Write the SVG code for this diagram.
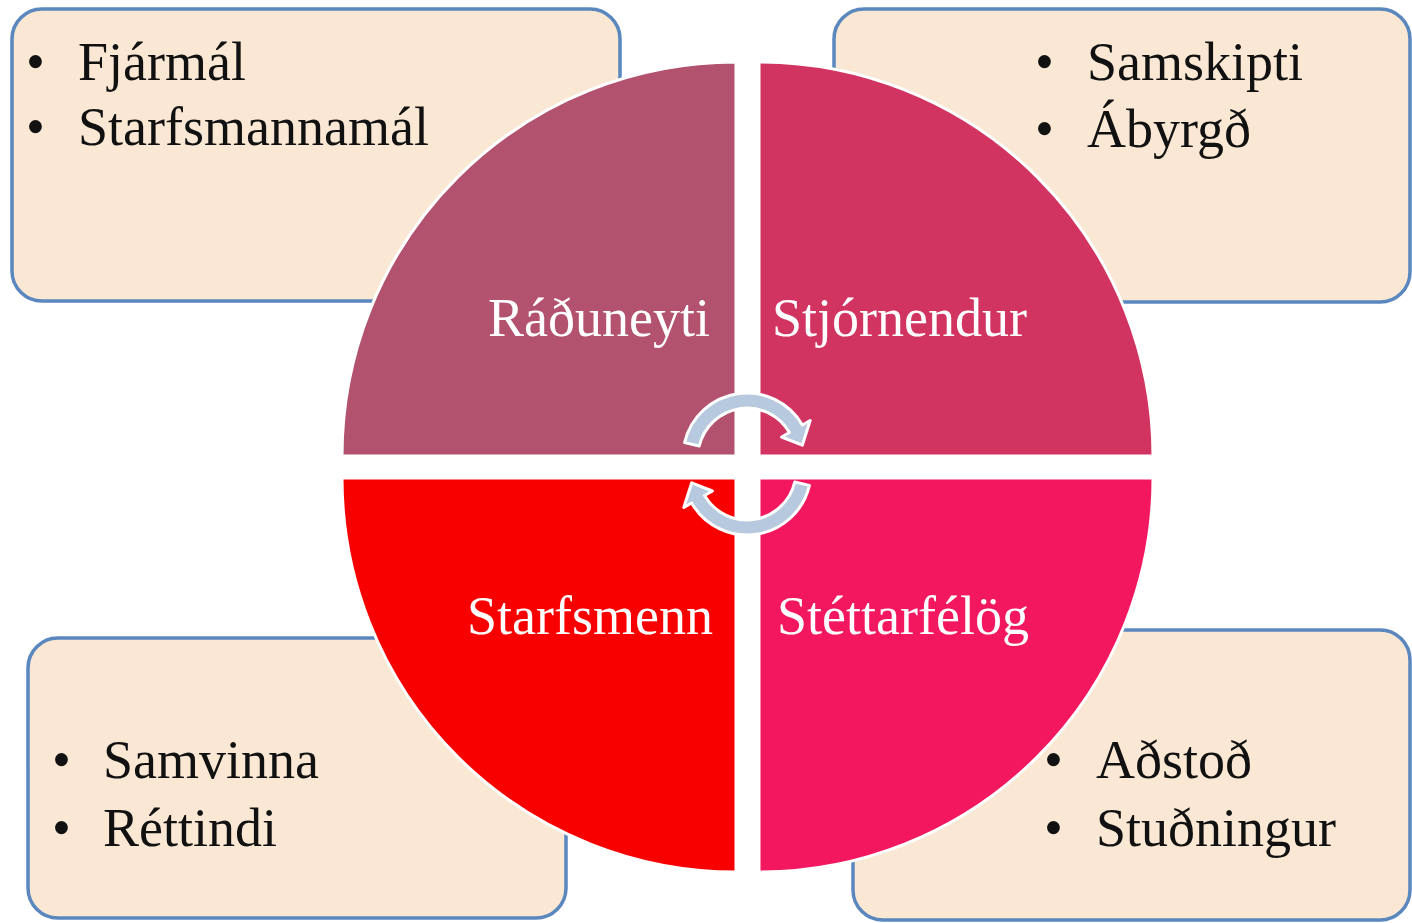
<svg xmlns="http://www.w3.org/2000/svg" width="1412" height="923" viewBox="0 0 1412 923">
<style>
.box{fill:#FAE8D5;stroke:#5B87BF;stroke-width:3.5}
.btxt{font-family:"Liberation Serif","Times New Roman",serif;font-size:54px;fill:#111}
.ltxt{font-family:"Liberation Serif","Times New Roman",serif;font-size:54px;fill:#fff}
.q{stroke:#fff;stroke-width:3}
.arr{fill:#B7C9DE;stroke:#fff;stroke-width:3;stroke-linejoin:round}
</style>
<defs>
<path id="cyc" d="M 684.6 442.6 A 64 64 0 0 1 802.4 425 L 810.2 420.5 L 802.3 445.2 L 781.6 437 L 789.4 432.5 A 49 49 0 0 0 699.3 446 Z"/>
</defs>
<rect width="1412" height="923" fill="#fff"/>
<g id="box-tl">
<rect class="box" x="12" y="9" width="608" height="292" rx="30"/>
<text class="btxt" x="26" y="80">•</text>
<text class="btxt" x="78" y="80">Fjármál</text>
<text class="btxt" x="26" y="145">•</text>
<text class="btxt" x="78" y="145">Starfsmannamál</text>
</g>
<g id="box-tr">
<rect class="box" x="834" y="9" width="576" height="293" rx="30"/>
<text class="btxt" x="1035" y="80">•</text>
<text class="btxt" x="1087" y="80">Samskipti</text>
<text class="btxt" x="1035" y="147">•</text>
<text class="btxt" x="1087" y="147">Ábyrgð</text>
</g>
<g id="box-bl">
<rect class="box" x="28" y="638" width="538" height="280" rx="30"/>
<text class="btxt" x="52" y="778">•</text>
<text class="btxt" x="103" y="778">Samvinna</text>
<text class="btxt" x="52" y="846">•</text>
<text class="btxt" x="103" y="846">Réttindi</text>
</g>
<g id="box-br">
<rect class="box" x="853" y="630" width="557" height="290" rx="30"/>
<text class="btxt" x="1044" y="778">•</text>
<text class="btxt" x="1096" y="778">Aðstoð</text>
<text class="btxt" x="1044" y="846">•</text>
<text class="btxt" x="1096" y="846">Stuðningur</text>
</g>
<g id="q-raduneyti">
<path class="q" fill="#B3526F" d="M 736 456 L 342 456 A 394 394 0 0 1 736 62 Z"/>
<text class="ltxt" x="488" y="336">Ráðuneyti</text>
</g>
<g id="q-stjornendur">
<path class="q" fill="#D23462" d="M 759 456 L 759 62 A 394 394 0 0 1 1153 456 Z"/>
<text class="ltxt" x="772" y="336">Stjórnendur</text>
</g>
<g id="q-starfsmenn">
<path class="q" fill="#F80000" d="M 736 478 L 736 872 A 394 394 0 0 1 342 478 Z"/>
<text class="ltxt" x="467" y="634">Starfsmenn</text>
</g>
<g id="q-stettarfelog">
<path class="q" fill="#F2175F" d="M 759 478 L 1153 478 A 394 394 0 0 1 759 872 Z"/>
<text class="ltxt" x="777" y="634">Stéttarfélög</text>
</g>
<g id="connectors">
<use href="#cyc" class="arr"/>
<use href="#cyc" class="arr" transform="rotate(180 747 464)"/>
</g>
</svg>
